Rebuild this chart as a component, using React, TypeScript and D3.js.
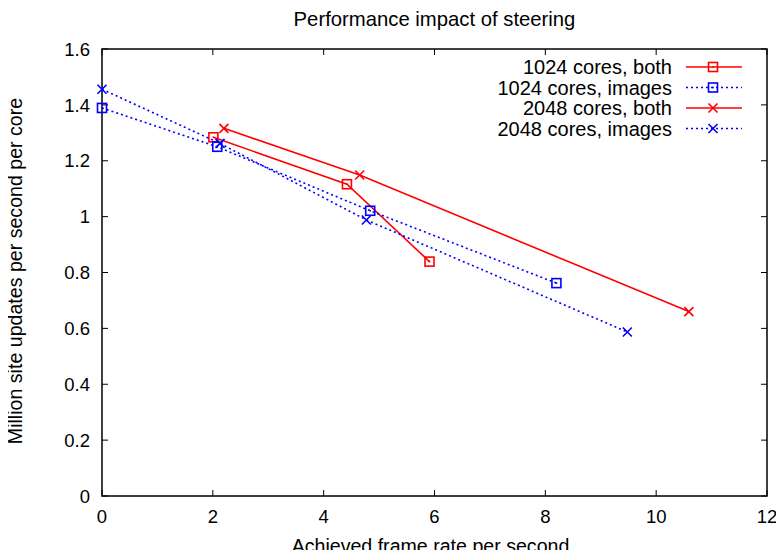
import React, { useEffect, useRef } from 'react';
import * as d3 from 'd3';

const xTicks = [0, 2, 4, 6, 8, 10, 12];
const yTicks = [0, 0.2, 0.4, 0.6, 0.8, 1, 1.2, 1.4, 1.6];

const both1024 = [
  { x: 2.01, y: 1.284 },
  { x: 4.42, y: 1.116 },
  { x: 5.91, y: 0.839 },
];
const images1024 = [
  { x: 0.0, y: 1.389 },
  { x: 2.08, y: 1.25 },
  { x: 4.84, y: 1.021 },
  { x: 8.2, y: 0.762 },
];
const both2048 = [
  { x: 2.2, y: 1.316 },
  { x: 4.65, y: 1.149 },
  { x: 10.59, y: 0.66 },
];
const images2048 = [
  { x: 0.0, y: 1.456 },
  { x: 2.13, y: 1.262 },
  { x: 4.77, y: 0.988 },
  { x: 9.48, y: 0.587 },
];

const seriesNames = ['1024 cores, both', '1024 cores, images', '2048 cores, both', '2048 cores, images'];

interface Pt { x: number; y: number }
interface Series { name: string; data: Pt[]; color: string; dash: string | null; marker: 'square' | 'cross' }

const series: Series[] = [
  { name: seriesNames[0], data: both1024, color: '#ff0000', dash: null, marker: 'square' },
  { name: seriesNames[1], data: images1024, color: '#0000ff', dash: '2,3', marker: 'square' },
  { name: seriesNames[2], data: both2048, color: '#ff0000', dash: null, marker: 'cross' },
  { name: seriesNames[3], data: images2048, color: '#0000ff', dash: '2,3', marker: 'cross' },
];

const width = 784;
const height = 558;
const margin = { top: 49, right: 17, bottom: 62, left: 102 };
const font = '"Liberation Sans", Arial, sans-serif';

function drawMarker(g: any, kind: string, x: number, y: number, color: string) {
  if (kind === 'square') {
    g.append('rect')
      .attr('x', x - 4.5).attr('y', y - 4.5)
      .attr('width', 9).attr('height', 9)
      .attr('fill', 'none').attr('stroke', color).attr('stroke-width', 1.6);
    g.append('rect')
      .attr('x', x - 0.8).attr('y', y - 0.8)
      .attr('width', 1.6).attr('height', 1.6)
      .attr('fill', color);
  } else {
    g.append('path')
      .attr('d', `M${x - 4.5},${y - 4.5}L${x + 4.5},${y + 4.5}M${x - 4.5},${y + 4.5}L${x + 4.5},${y - 4.5}`)
      .attr('stroke', color).attr('stroke-width', 1.6).attr('fill', 'none');
  }
}

export default function App() {
  const svgRef = useRef<SVGSVGElement>(null);

  useEffect(() => {
    if (!svgRef.current) return;
    const root = d3.select(svgRef.current);
    root.selectAll('*').remove();

    const innerWidth = width - margin.left - margin.right;
    const innerHeight = height - margin.top - margin.bottom;

    const x = d3.scaleLinear().domain([0, 12]).range([0, innerWidth]);
    const y = d3.scaleLinear().domain([0, 1.6]).range([innerHeight, 0]);

    root.append('rect').attr('width', width).attr('height', height).attr('fill', '#fff');

    const svg = root.append('g').attr('transform', `translate(${margin.left},${margin.top})`);

    // ticks (inside, mirrored)
    const tl = 6;
    xTicks.forEach(t => {
      svg.append('line').attr('x1', x(t)).attr('x2', x(t)).attr('y1', innerHeight).attr('y2', innerHeight - tl)
        .attr('stroke', '#000').attr('stroke-width', 1);
      svg.append('line').attr('x1', x(t)).attr('x2', x(t)).attr('y1', 0).attr('y2', tl)
        .attr('stroke', '#000').attr('stroke-width', 1);
      svg.append('text').attr('x', x(t)).attr('y', innerHeight + 27)
        .attr('text-anchor', 'middle').attr('font-family', font).attr('font-size', 18.5)
        .text(d3.format('d')(t));
    });
    yTicks.forEach(t => {
      svg.append('line').attr('x1', 0).attr('x2', tl).attr('y1', y(t)).attr('y2', y(t))
        .attr('stroke', '#000').attr('stroke-width', 1);
      svg.append('line').attr('x1', innerWidth).attr('x2', innerWidth - tl).attr('y1', y(t)).attr('y2', y(t))
        .attr('stroke', '#000').attr('stroke-width', 1);
      svg.append('text').attr('x', -12).attr('y', y(t)).attr('dy', '0.36em')
        .attr('text-anchor', 'end').attr('font-family', font).attr('font-size', 18.5)
        .text(t === 0 || t === 1 ? String(t) : t.toFixed(1));
    });

    svg.append('rect').attr('width', innerWidth).attr('height', innerHeight)
      .attr('fill', 'none').attr('stroke', '#000').attr('stroke-width', 1.5);

    const line = d3.line<Pt>().x(d => x(d.x)).y(d => y(d.y));

    series.forEach(s => {
      const p = svg.append('path').datum(s.data).attr('d', line)
        .attr('fill', 'none').attr('stroke', s.color).attr('stroke-width', 1.6);
      if (s.dash) p.attr('stroke-dasharray', s.dash);
      const mg = svg.append('g');
      s.data.forEach(d => drawMarker(mg, s.marker, x(d.x), y(d.y), s.color));
    });

    // legend
    const legend = root.append('g');
    series.forEach((s, i) => {
      const ly = 67 + i * 20.5;
      legend.append('text').attr('x', 672).attr('y', ly).attr('dy', '0.36em')
        .attr('text-anchor', 'end').attr('font-family', font).attr('font-size', 20)
        .text(s.name);
      const l = legend.append('line').attr('x1', 686).attr('x2', 742).attr('y1', ly).attr('y2', ly)
        .attr('stroke', s.color).attr('stroke-width', 1.6);
      if (s.dash) l.attr('stroke-dasharray', s.dash);
      drawMarker(legend, s.marker, 713, ly, s.color);
    });

    // title and axis labels
    root.append('text').attr('x', 434.5).attr('y', 25.5)
      .attr('text-anchor', 'middle').attr('font-family', font).attr('font-size', 20.3)
      .text('Performance impact of steering');
    root.append('text').attr('x', 430.5).attr('y', 552.5)
      .attr('text-anchor', 'middle').attr('font-family', font).attr('font-size', 19.6)
      .text('Achieved frame rate per second');
    root.append('text').attr('transform', `translate(22,${271}) rotate(-90)`)
      .attr('text-anchor', 'middle').attr('font-family', font).attr('font-size', 19.6)
      .text('Million site updates per second per core');
  }, []);

  return (
    <div style={{ margin: -8 }}>
      <svg ref={svgRef} width={width} height={height} style={{ display: 'block' }} />
    </div>
  );
}
